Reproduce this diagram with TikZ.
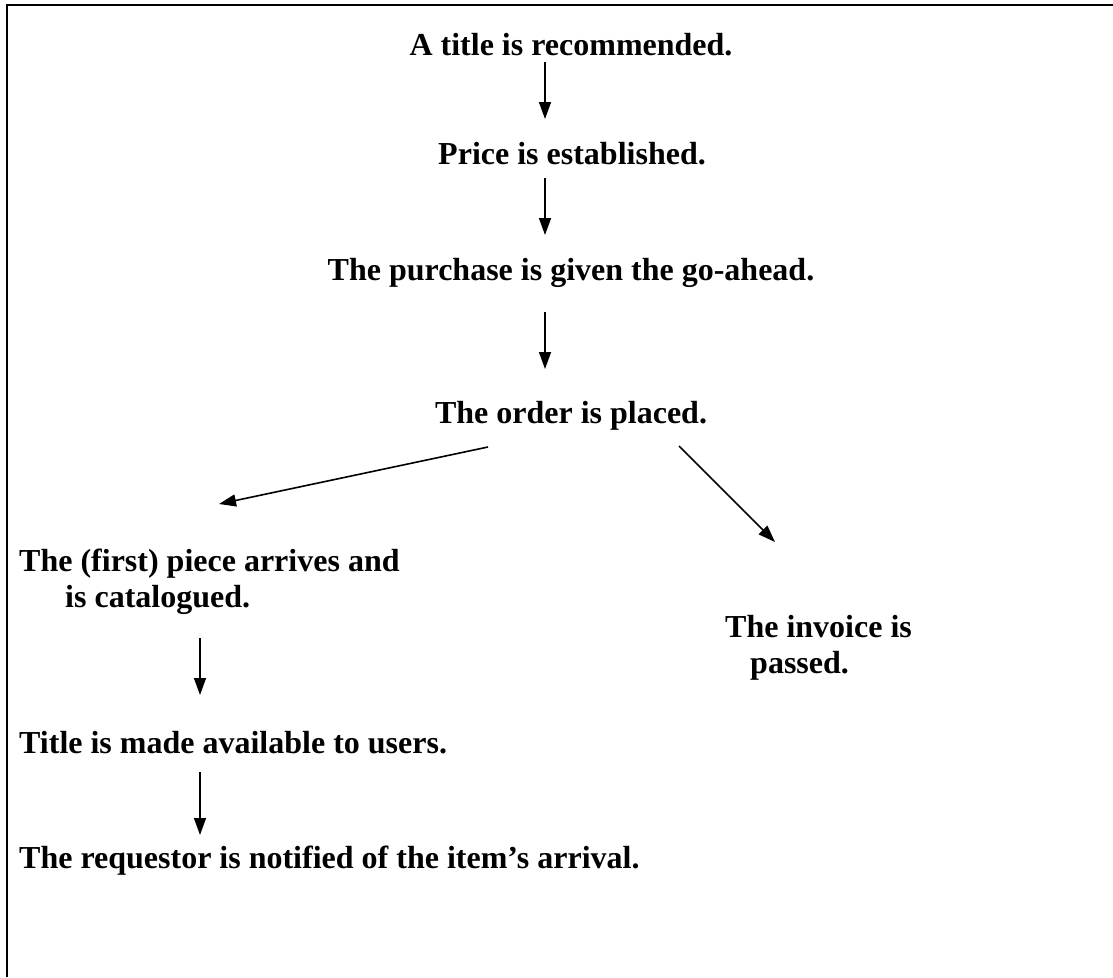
\documentclass[tikz,border=0pt]{standalone}
\usepackage{fontspec}
\setmainfont{Liberation Serif}
\usetikzlibrary{arrows.meta,calc}
\begin{document}
\begin{tikzpicture}[x=1pt,y=-1pt,
  lbl/.style={inner sep=0pt,font=\fontsize{32}{36}\selectfont\bfseries,align=left},
  arr/.style={line width=1.6pt,-{Triangle[length=17pt,width=12pt]}}]
\useasboundingbox (0,0) rectangle (1113,977);
\draw[line width=2.2pt] (7,977) -- (7,5) -- (1113,5);
\node[lbl,anchor=base] (t1) at (571,55) {A title is recommended.};
\node[lbl,anchor=base] (t2) at (572,164) {Price is established.};
\node[lbl,anchor=base] (t3) at (571,280) {The purchase is given the go-ahead.};
\node[lbl,anchor=base] (t4) at (571,423) {The order is placed.};
\node[lbl,anchor=base west] (t5) at (19,607) {The (first) piece arrives and\\\hspace*{46pt}is catalogued.};
\node[lbl,anchor=base west] (t6) at (725,673) {The invoice is\\\hspace*{25pt}passed.};
\node[lbl,anchor=base west] (t7) at (19,753) {Title is made available to users.};
\node[lbl,anchor=base west] (t8) at (19,868) {The requestor is notified of the item’s arrival.};
\draw[arr] ($(t1.base)+(-26,7)$) -- ($(t2.base)+(-27,-45)$);
\draw[arr] ($(t2.base)+(-27,14)$) -- ($(t3.base)+(-26,-45)$);
\draw[arr] ($(t3.base)+(-26,32)$) -- ($(t4.base)+(-26,-54)$);
\draw[arr] ($(t4.base)+(-83,24)$) -- ($(t5.base west)+(200,-103)$);
\draw[arr] ($(t4.base)+(108,23)$) -- ($(t6.base west)+(50,-131)$);
\draw[arr] ($(t5.base west)+(181,31)$) -- ($(t7.base west)+(181,-58)$);
\draw[arr] ($(t7.base west)+(181,19)$) -- ($(t8.base west)+(181,-33)$);
\end{tikzpicture}
\end{document}
